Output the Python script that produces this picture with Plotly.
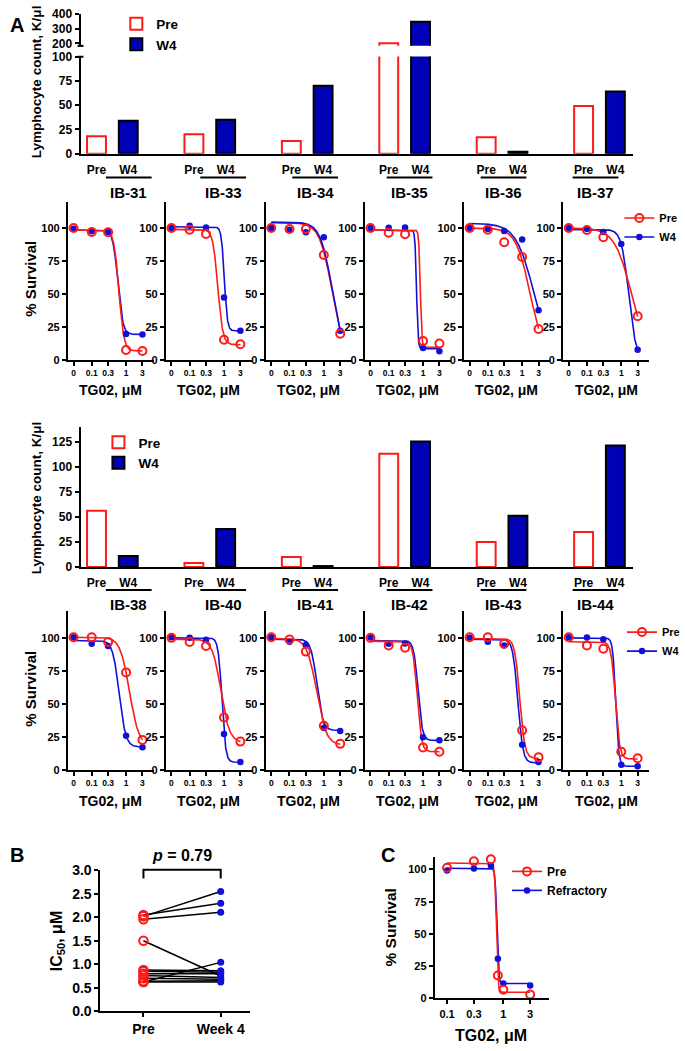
import numpy as np
import plotly.graph_objects as go

W, H = 685, 1051
FONT = 'Liberation Sans, Arial, sans-serif'
RED = '#ff1a1a'
BAR_BLUE = '#0000b4'
BLUE = '#1010d8'

### DATA ###

# Lymphocyte counts, K/ul
PATIENTS_1 = ['IB-31', 'IB-33', 'IB-34', 'IB-35', 'IB-36', 'IB-37']
COUNT_PRE_1 = [18, 20, 13, 202, 17, 49]
COUNT_W4_1 = [34, 35, 70, 345, 2, 64]
PATIENTS_2 = ['IB-38', 'IB-40', 'IB-41', 'IB-42', 'IB-43', 'IB-44']
COUNT_PRE_2 = [56, 4, 10, 113, 25, 35]
COUNT_W4_2 = [11, 38, 1, 125, 51, 121]

# TG02 doses, uM
DOSES = [0, 0.1, 0.3, 1, 3]
DOSE_LABELS = ['0', '0.1', '0.3', '1', '3']
ZERO_DOSE_AT = 10 ** -1.53  # where the "0" dose sits on the log axis

# % survival per patient
SURV_PRE_1 = [[100, 97, 96.8, 7.5, 6.7],
              [100, 98.8, 95.5, 15.2, 11.9],
              [100, 99.3, 99.3, 79.6, 19.9],
              [100, 96.5, 95.3, 14.4, 12.4],
              [100, 98.8, 89.3, 78.1, 23.4],
              [100, 98.5, 93, None, 33.1]]
SURV_W4_1 = [[99.5, 97.5, 97, 19.7, 19.2],
             [100, 101.7, 100.5, 47.3, 22.1],
             [100, 98.8, 96.8, 93, 22.1],
             [100, 100.2, 100.5, 9.0, 6.5],
             [100, 99.3, 97.8, 91.3, 37.6],
             [100, 99.3, 97, 88, 7.7]]
SURV_PRE_2 = [[100.5, 100.5, 96.8, 73.9, 22.9],
              [100, 96.8, 93.8, 39.8, 21.6],
              [100.5, 98.8, 89.6, 33.6, 19.9],
              [100, 94.3, 92.5, 17.2, 13.9],
              [100.5, 100.5, 95.5, 30.1, 9.7],
              [100.5, 94.3, 91.8, 13.9, 9]]
SURV_W4_2 = [[100.5, 95.5, 93.8, 26.1, 17.4],
             [100.5, 100, 98.5, 27.4, 6.2],
             [100.5, 97, 94.5, 31.8, 29.6],
             [100.5, 95.5, 95.8, 24.9, 22.6],
             [100, 97, 94.3, 19.2, 6.2],
             [100.5, 100.2, 99, 4.2, 3]]

# fitted dose-response curves: top, bottom, log10 IC50, hill slope
FIT_PRE_1 = [(98.5, 6.8, -0.21, 6), (99, 11.5, -0.18, 6), (104, 0, 0.24, 2.4),
             (98.5, 9.5, -0.08, 20), (100, 0, 0.235, 2.1), (100, 0, 0.30, 1.75)]
FIT_W4_1 = [(98.5, 19.3, -0.24, 6), (101, 22, 0.01, 10), (104.5, 0, 0.25, 2.5),
            (98.5, 8.5, -0.19, 20), (103.5, 0, 0.335, 1.66), (99, 0, 0.216, 4.1)]
FIT_PRE_2 = [(100.5, 18, 0.101, 3.19), (99, 21, -0.09, 3.5), (99.5, 19, -0.21, 3.1),
             (97.5, 14, -0.17, 7), (99.5, 9, -0.07, 6), (97, 8.5, -0.17, 7)]
FIT_W4_2 = [(98, 17.5, -0.2, 4.6), (100, 6, -0.06, 8), (99, 30, -0.2, 5),
            (98, 22.5, -0.145, 7), (99, 5.5, -0.125, 6), (100, 3, -0.16, 10)]
BLUE_ON_TOP = {'IB-34'}

# Panel B: IC50, uM (paired)
IC50_PRE = [2.02, 2.05, 1.96, 1.50, 0.62, 0.88, 0.85, 0.80, 0.76, 0.70, 0.64, 0.62]
IC50_W4 = [2.55, 2.30, 2.11, 0.75, 1.04, 0.86, 0.83, 0.80, 0.72, 0.68, 0.65, 0.62]
P_VALUE = '0.79'

# Panel C
C_DOSES = [0.1, 0.3, 0.6, 0.8, 1, 3]
C_PRE = [101.3, 106.4, 108, 17.7, 6.7, 3]
C_REF = [99.2, 100.8, 103, 30.8, 11.5, 10]
C_FIT_PRE = (105, 4.8, -0.125, 30)
C_FIT_REF = (101, 11.5, -0.116, 30)

### HELPERS ###

fig = go.Figure()
lay = dict(width=W, height=H, margin=dict(l=0, r=0, t=0, b=0),
           plot_bgcolor='white', paper_bgcolor='white', barmode='overlay',
           font=dict(family=FONT, size=12, color='black', weight='bold'),
           annotations=[], shapes=[])


def xr(k): return 'x' if k == 1 else f'x{k}'
def yr(k): return 'y' if k == 1 else f'y{k}'
def xa(k): return 'xaxis' if k == 1 else f'xaxis{k}'
def ya(k): return 'yaxis' if k == 1 else f'yaxis{k}'
def hdom(a, b): return [a / W, b / W]
def vdom(top, bottom): return [1 - bottom / H, 1 - top / H]


def bold(size):
    return dict(family=FONT, size=size, color='black', weight='bold')


AX = dict(showline=True, linecolor='black', linewidth=2, ticks='outside',
          ticklen=4, tickwidth=2, tickcolor='black', showgrid=False,
          zeroline=False, fixedrange=True)


def text(s, x, y, size, angle=0):
    lay['annotations'].append(dict(
        text=s, x=x / W, y=1 - y / H, xref='paper', yref='paper',
        showarrow=False, xanchor='center', yanchor='middle',
        textangle=angle, font=bold(size)))


def hline(x0, x1, y, width=2):
    lay['shapes'].append(dict(type='line', xref='paper', yref='paper',
                              x0=x0 / W, x1=x1 / W, y0=1 - y / H, y1=1 - y / H,
                              line=dict(color='black', width=width)))


def curve(fit, lo, hi):
    top, bottom, logic50, hill = fit
    lx = np.linspace(lo, hi, 300)
    return 10 ** lx, bottom + (top - bottom) / (1 + 10 ** ((lx - logic50) * hill))


OFFSET, BAR_W = 0.163, 0.194


def bar_panel(k, pre, w4, legend, top, bottom, yrange, yticks, upper=None):
    pos = np.arange(len(pre))
    yks = [k] + ([upper['k']] if upper else [])
    for n, yk in enumerate(yks):
        fig.add_bar(x=pos - OFFSET, y=pre, width=BAR_W, name='Pre',
                    marker=dict(color='white', line=dict(color=RED, width=2)),
                    xaxis=xr(k), yaxis=yr(yk), legend=legend, showlegend=n == 0)
        fig.add_bar(x=pos + OFFSET, y=w4, width=BAR_W, name='W4',
                    marker=dict(color=BAR_BLUE, line=dict(color='black', width=2)),
                    xaxis=xr(k), yaxis=yr(yk), legend=legend, showlegend=n == 0)
    lay[xa(k)] = dict(AX, domain=hdom(81, 637), range=[-0.327, 5.347],
                      anchor=yr(k), tickcolor='rgba(0,0,0,0)',
                      tickvals=list(pos - OFFSET) + list(pos + OFFSET),
                      ticktext=['Pre'] * len(pos) + ['W4'] * len(pos),
                      tickfont=bold(12))
    lay[ya(k)] = dict(AX, domain=vdom(top, bottom), range=yrange, anchor=xr(k),
                      tickvals=yticks, tickfont=bold(12))
    if upper:
        lay[ya(upper['k'])] = dict(AX, domain=vdom(upper['top'], upper['bottom']),
                                   range=upper['range'], anchor=xr(k),
                                   tickvals=upper['ticks'], tickfont=bold(12))


SURV_LEFT = [68.3, 166.8, 267.2, 367, 466.7, 566.4]
SURV_W = 86.5


def surv_row(k0, names, pre_pts, w4_pts, fits_pre, fits_w4, top, bottom, legend):
    xs = [ZERO_DOSE_AT if d == 0 else d for d in DOSES]
    lo, hi = np.log10(ZERO_DOSE_AT), np.log10(3)
    for i, name in enumerate(names):
        k = k0 + i
        cx, cy_pre = curve(fits_pre[i], lo, hi)
        _, cy_w4 = curve(fits_w4[i], lo, hi)
        red = dict(x=cx, y=cy_pre, line=dict(color=RED, width=1.6))
        blue = dict(x=cx, y=cy_w4, line=dict(color=BLUE, width=1.6))
        order = [red, blue] if name in BLUE_ON_TOP else [blue, red]
        for c in order:
            fig.add_scatter(mode='lines', showlegend=False, hoverinfo='skip',
                            xaxis=xr(k), yaxis=yr(k), **c)
        fig.add_scatter(x=xs, y=w4_pts[i], mode='markers', showlegend=False,
                        marker=dict(color=BLUE, size=6.5), cliponaxis=False,
                        xaxis=xr(k), yaxis=yr(k))
        fig.add_scatter(x=xs, y=pre_pts[i], mode='markers', showlegend=False,
                        marker=dict(symbol='circle-open', color=RED, size=8,
                                    line=dict(width=2)),
                        cliponaxis=False, xaxis=xr(k), yaxis=yr(k))
        left = SURV_LEFT[i]
        lay[xa(k)] = dict(AX, type='log', domain=hdom(left, left + SURV_W),
                          range=[-1.694, 0.81], anchor=yr(k), tickvals=xs,
                          ticktext=DOSE_LABELS, tickfont=bold(8.5))
        lay[ya(k)] = dict(AX, domain=vdom(top, bottom), range=[0, 120],
                          anchor=xr(k), tickvals=[0, 25, 50, 75, 100],
                          tickfont=bold(11))
        text('TG02, μM', left + SURV_W / 2, bottom + 31, 14)
    # legend entries
    fig.add_scatter(x=[None], y=[None], mode='lines+markers', name='Pre',
                    line=dict(color=RED, width=1.6),
                    marker=dict(symbol='circle-open', color=RED, size=8, line=dict(width=2)),
                    xaxis=xr(k0), yaxis=yr(k0), legend=legend)
    fig.add_scatter(x=[None], y=[None], mode='lines+markers', name='W4',
                    line=dict(color=BLUE, width=1.6), marker=dict(color=BLUE, size=6.5),
                    xaxis=xr(k0), yaxis=yr(k0), legend=legend)
    text('% Survival', 31, (top + bottom) / 2 - 2, 15, angle=-90)


TITLE_X = [129.5, 224.5, 317, 412, 506.5, 599]


def group_titles(names, line_y, title_y):
    for cx, name in zip(TITLE_X, names):
        hline(cx - 23, cx + 23, line_y)
        text(name, cx, title_y, 15)


### PANEL A ###

bar_panel(1, COUNT_PRE_1, COUNT_W4_1, 'legend', 49.3, 148, [0, 100],
          [0, 25, 50, 75, 100],
          upper=dict(k=2, top=5.7, bottom=38.3, range=[185, 400],
                     ticks=[200, 300, 400]))
hline(78, 84, 38.5)
hline(78, 84, 49.5)
text('Lymphocyte count, K/μl', 37.5, 75, 13.5, angle=-90)
group_titles(PATIENTS_1, 172, 187)

surv_row(3, PATIENTS_1, SURV_PRE_1, SURV_W4_1, FIT_PRE_1, FIT_W4_1,
         196.7, 357.3, 'legend2')

bar_panel(9, COUNT_PRE_2, COUNT_W4_2, 'legend3', 425, 567.7, [0, 140],
          [0, 25, 50, 75, 100, 125])
text('Lymphocyte count, K/μl', 37, 497, 13.5, angle=-90)
group_titles(PATIENTS_2, 591, 605.7)

surv_row(10, PATIENTS_2, SURV_PRE_2, SURV_W4_2, FIT_PRE_2, FIT_W4_2,
         612.7, 774, 'legend4')

### PANEL B ###

k = 16
px_, py_ = [], []
for a, b in zip(IC50_PRE, IC50_W4):
    px_ += ['Pre', 'Week 4', None]
    py_ += [a, b, None]
fig.add_scatter(x=px_, y=py_, mode='lines', line=dict(color='black', width=1.5),
                showlegend=False, xaxis=xr(k), yaxis=yr(k))
fig.add_scatter(x=['Week 4'] * len(IC50_W4), y=IC50_W4, mode='markers',
                marker=dict(color=BLUE, size=7), showlegend=False,
                cliponaxis=False, xaxis=xr(k), yaxis=yr(k))
fig.add_scatter(x=['Pre'] * len(IC50_PRE), y=IC50_PRE, mode='markers',
                marker=dict(symbol='circle-open', color=RED, size=8.5, line=dict(width=2)),
                showlegend=False, cliponaxis=False, xaxis=xr(k), yaxis=yr(k))
lay[xa(k)] = dict(AX, domain=hdom(101, 251), range=[-0.557, 1.373], anchor=yr(k),
                  type='category', categoryorder='array',
                  categoryarray=['Pre', 'Week 4'], tickfont=bold(14))
lay[ya(k)] = dict(AX, domain=vdom(875.7, 1018.7), range=[0, 3], anchor=xr(k),
                  tickvals=[0, 0.5, 1, 1.5, 2, 2.5, 3], tickformat='.1f',
                  tickfont=bold(14))
lay['shapes'].append(dict(type='path', xref=xr(k), yref='paper',
                          path=f'M0,{1 - 884 / H} L0,{1 - 875 / H} L1,{1 - 875 / H} L1,{1 - 884 / H}',
                          line=dict(color='black', width=2)))
text(f'<i>p</i> = {P_VALUE}', 183.5, 861, 16)
text('IC<sub>50</sub>, μM', 58, 948, 16, angle=-90)

### PANEL C ###

k = 17
lo, hi = np.log10(C_DOSES[0]), np.log10(C_DOSES[-1])
cx, cy = curve(C_FIT_REF, lo, hi)
fig.add_scatter(x=cx, y=cy, mode='lines', line=dict(color=BLUE, width=1.6),
                showlegend=False, xaxis=xr(k), yaxis=yr(k))
cx, cy = curve(C_FIT_PRE, lo, hi)
fig.add_scatter(x=cx, y=cy, mode='lines', line=dict(color=RED, width=1.6),
                showlegend=False, xaxis=xr(k), yaxis=yr(k))
fig.add_scatter(x=C_DOSES, y=C_REF, mode='markers', marker=dict(color=BLUE, size=6.5),
                showlegend=False, cliponaxis=False, xaxis=xr(k), yaxis=yr(k))
fig.add_scatter(x=C_DOSES, y=C_PRE, mode='markers',
                marker=dict(symbol='circle-open', color=RED, size=8, line=dict(width=2)),
                showlegend=False, cliponaxis=False, xaxis=xr(k), yaxis=yr(k))
fig.add_scatter(x=[None], y=[None], mode='lines+markers', name='Pre',
                line=dict(color=RED, width=1.6),
                marker=dict(symbol='circle-open', color=RED, size=8, line=dict(width=2)),
                xaxis=xr(k), yaxis=yr(k), legend='legend5')
fig.add_scatter(x=[None], y=[None], mode='lines+markers', name='Refractory',
                line=dict(color=BLUE, width=1.6), marker=dict(color=BLUE, size=6.5),
                xaxis=xr(k), yaxis=yr(k), legend='legend5')
lay[xa(k)] = dict(AX, type='log', domain=hdom(437.3, 552.3), range=[-1.219, 0.813],
                  anchor=yr(k), tickvals=[0.1, 0.3, 1, 3], ticktext=['0.1', '0.3', '1', '3'],
                  tickfont=bold(11))
lay[ya(k)] = dict(AX, domain=vdom(861.7, 1005.7), range=[0, 110], anchor=xr(k),
                  tickvals=[0, 25, 50, 75, 100], tickfont=bold(11))
text('TG02, μM', 493.7, 1043, 16)
text('% Survival', 393, 934, 15.5, angle=-90)

# panel letters
text('A', 17, 17, 20)
text('B', 17, 860, 20)
text('C', 390, 860, 20)

# legends
def legend_at(x, y, size):
    return dict(x=x / W, y=1 - y / H, xanchor='left', yanchor='top',
                bgcolor='rgba(0,0,0,0)', font=bold(size), tracegroupgap=0)

lay['legend'] = legend_at(117, 0.5, 13.5)
lay['legend2'] = legend_at(623, 198.5, 11)
lay['legend3'] = legend_at(99, 425.5, 13.5)
lay['legend4'] = legend_at(626, 619, 11)
lay['legend5'] = legend_at(510, 862, 12)

fig.update_layout(**lay)
# page without the default body margin, so the 685x1051 figure fills the window
fig.write_html('out.html', config={'displayModeBar': False},
               post_script="document.body.style.margin='0';document.body.style.overflow='hidden';")
